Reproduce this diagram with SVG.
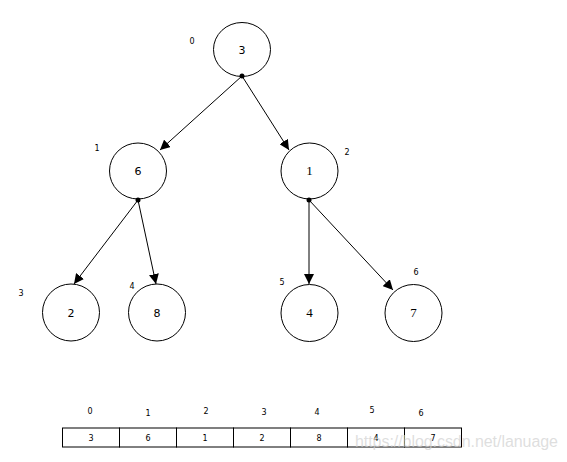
<svg xmlns="http://www.w3.org/2000/svg" width="567" height="462" viewBox="0 0 567 462">
<defs>
<marker id="ah" viewBox="0 0 10 10" refX="10" refY="5" markerWidth="10" markerHeight="10" markerUnits="userSpaceOnUse" orient="auto"><path d="M0,0 L10,5 L0,10 Z" fill="#000"/></marker>
<style>
.n{fill:#fff;stroke:#000;stroke-width:1}
.v{font-family:"Liberation Serif",serif;font-size:13px;text-anchor:middle;fill:#000}
.vs{font-family:"DejaVu Sans","Liberation Sans",sans-serif;font-size:11px;text-anchor:middle;fill:#000}
.i{font-family:"DejaVu Sans","Liberation Sans",sans-serif;font-size:8px;text-anchor:middle;fill:#000}
.e{stroke:#000;stroke-width:1;fill:none;marker-end:url(#ah)}
.c{fill:#fff;stroke:#000;stroke-width:1}
</style>
</defs>
<rect width="567" height="462" fill="#fff"/>
<g id="connectors">
<line class="e" x1="242" y1="76" x2="160" y2="150"/>
<line class="e" x1="242" y1="76" x2="289" y2="150"/>
<line class="e" x1="138" y1="200" x2="74" y2="284"/>
<line class="e" x1="138" y1="200" x2="156" y2="284"/>
<line class="e" x1="309" y1="200" x2="309" y2="284"/>
<line class="e" x1="309" y1="200" x2="393" y2="290"/>
</g>
<g id="node0"><ellipse class="n" cx="242" cy="49.5" rx="28.5" ry="27"/><text class="vs" x="242" y="53.5">3</text><text class="i" x="192" y="44">0</text><circle cx="242" cy="76" r="2.5"/></g>
<g id="node1"><ellipse class="n" cx="138" cy="171" rx="28.5" ry="28"/><text class="vs" x="138" y="175">6</text><text class="i" x="97" y="151">1</text><circle cx="138" cy="200" r="2.5"/></g>
<g id="node2"><ellipse class="n" cx="309.5" cy="171" rx="28.5" ry="28"/><text class="v" x="309.5" y="175">1</text><text class="i" x="347" y="155">2</text><circle cx="309" cy="200" r="2.5"/></g>
<g id="node3"><ellipse class="n" cx="71" cy="312.5" rx="28.5" ry="28.5"/><text class="vs" x="71" y="316.5">2</text><text class="i" x="21" y="296">3</text></g>
<g id="node4"><ellipse class="n" cx="157" cy="312.5" rx="28.5" ry="28.5"/><text class="vs" x="157" y="316.5">8</text><text class="i" x="132" y="289">4</text></g>
<g id="node5"><ellipse class="n" cx="309.5" cy="313" rx="28.5" ry="28.5"/><text class="v" x="309.5" y="317">4</text><text class="i" x="282" y="285">5</text></g>
<g id="node6"><ellipse class="n" cx="413.5" cy="313" rx="28.5" ry="28.5"/><text class="v" x="413.5" y="317">7</text><text class="i" x="416" y="275">6</text></g>
<g id="array">
<rect class="c" x="62.5" y="428" width="57" height="19"/>
<rect class="c" x="119.5" y="428" width="57" height="19"/>
<rect class="c" x="176.5" y="428" width="57" height="19"/>
<rect class="c" x="233.5" y="428" width="57" height="19"/>
<rect class="c" x="290.5" y="428" width="57" height="19"/>
<rect class="c" x="347.5" y="428" width="57" height="19"/>
<rect class="c" x="404.5" y="428" width="57" height="19"/>
<text class="i" x="91" y="441">3</text>
<text class="i" x="148" y="441">6</text>
<text class="i" x="205" y="441">1</text>
<text class="i" x="262" y="441">2</text>
<text class="i" x="319" y="441">8</text>
<text class="i" x="376" y="441">4</text>
<text class="i" x="433" y="441">7</text>
<text class="i" x="90" y="414">0</text>
<text class="i" x="148" y="416">1</text>
<text class="i" x="206" y="414">2</text>
<text class="i" x="264" y="415">3</text>
<text class="i" x="317" y="415">4</text>
<text class="i" x="372" y="413">5</text>
<text class="i" x="421" y="416">6</text>
</g>
<text x="355" y="447" font-family="Liberation Sans,sans-serif" font-size="16" fill="#d0d0d0" fill-opacity="0.7" textLength="203">https://blog.csdn.net/lanuage</text>
</svg>
